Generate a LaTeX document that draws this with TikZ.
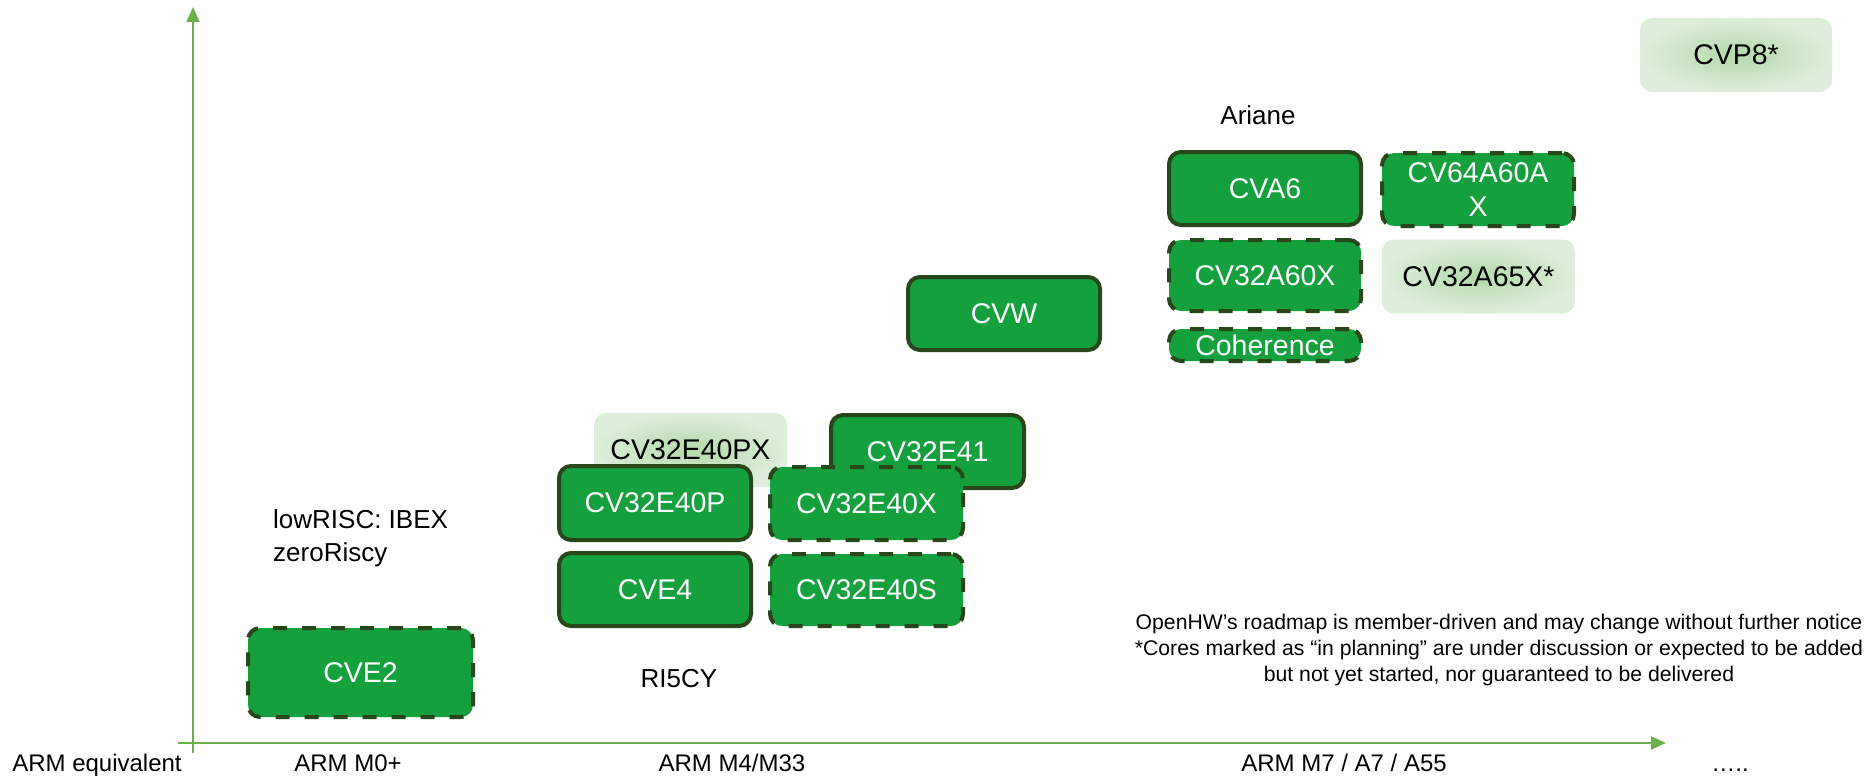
\documentclass[tikz,border=0pt]{standalone}
\usepackage{fontspec}
\setmainfont{Liberation Sans}
\usetikzlibrary{arrows.meta}
\definecolor{boxgreen}{RGB}{21,160,62}
\definecolor{boxedge}{RGB}{39,70,25}
\definecolor{axisgreen}{RGB}{106,176,76}
\definecolor{planin}{RGB}{178,218,170}
\definecolor{planout}{RGB}{222,238,218}
\tikzset{
  core/.style={rectangle, rounded corners=12pt, fill=boxgreen, draw=boxedge, line width=4pt,
    text=white, font=\fontsize{28.5}{34}\selectfont, align=center, inner sep=0pt,
    minimum width=192pt, minimum height=73pt},
  dashedcore/.style={core, dash pattern=on 14pt off 15pt},
  plancore/.style={rectangle, rounded corners=12pt, inner color=planin, outer color=planout,
    text=black, font=\fontsize{28.5}{34}\selectfont, inner sep=0pt,
    minimum width=193pt, minimum height=74pt},
  label/.style={font=\fontsize{26}{33}\selectfont, text=black, inner sep=0pt},
  axislabel/.style={font=\fontsize{24}{28}\selectfont, text=black, inner sep=0pt, anchor=base},
  axis/.style={draw=axisgreen, line width=2.5pt, -{Triangle[length=15pt,width=13pt]}}
}
\begin{document}
\begin{tikzpicture}[x=1pt,y=-1pt]
\useasboundingbox (0,0) rectangle (1868,776);
% axes
\coordinate (ytail) at (193,753);
\coordinate (ytip) at (193,7);
\coordinate (xtail) at (178,743);
\coordinate (xtip) at (1666,743);
\draw[axis] (ytail) -- (ytip);
\draw[axis] (xtail) -- (xtip);
% axis labels
\node[axislabel] (armeq) at (97,771) {ARM equivalent};
\node[axislabel] (m0) at (348,771) {ARM M0+};
\node[axislabel] (m4) at (732,771) {ARM M4/M33};
\node[axislabel] (m7) at (1344,771) {ARM M7 / A7 / A55};
\node[axislabel] (dots) at (1730,771) {…..};
% planned cores
\node[plancore, minimum width=192pt] (cvp8) at (1736,55) {CVP8*};
\node[plancore] (cv32a65x) at (1478.5,276.5) {CV32A65X*};
\node[plancore] (cv32e40px) at (690.5,450) {CV32E40PX};
% Ariane group
\node[label] (ariane) at (1258,115) {Ariane};
\node[core] (cva6) at (1265,188.5) {CVA6};
\node[dashedcore] (cv64) at (1478,189.5) {CV64A60A\\X};
\node[dashedcore, minimum height=71pt] (cv32a60x) at (1265,275.5) {CV32A60X};
\node[dashedcore, minimum height=32pt] (coh) at (1265,345) {Coherence};
% CVW
\node[core] (cvw) at (1004,313.5) {CVW};
% RI5CY group
\node[core, minimum width=193pt] (cv32e41) at (927.5,451.5) {CV32E41};
\node[core, minimum height=74pt] (cv32e40p) at (655,503) {CV32E40P};
\node[dashedcore, minimum width=193pt] (cv32e40x) at (866.5,503.5) {CV32E40X};
\node[core] (cve4) at (655,589.5) {CVE4};
\node[dashedcore, minimum width=193pt, minimum height=72pt] (cv32e40s) at (866.5,590) {CV32E40S};
\node[label] (ri5cy) at (679,679) {RI5CY};
% lowRISC
\node[label, anchor=west, align=left] (lowrisc) at (273,538.5) {lowRISC: IBEX\\zeroRiscy};
\node[dashedcore, minimum width=225pt, minimum height=89pt] (cve2) at (360.5,672.5) {CVE2};
% note
\node[font=\fontsize{21.2}{26}\selectfont, align=center, inner sep=0pt] (note) at (1499,650)
  {OpenHW’s roadmap is member-driven and may change without further notice\\
   *Cores marked as “in planning” are under discussion or expected to be added\\
   but not yet started, nor guaranteed to be delivered};
\end{tikzpicture}
\end{document}
